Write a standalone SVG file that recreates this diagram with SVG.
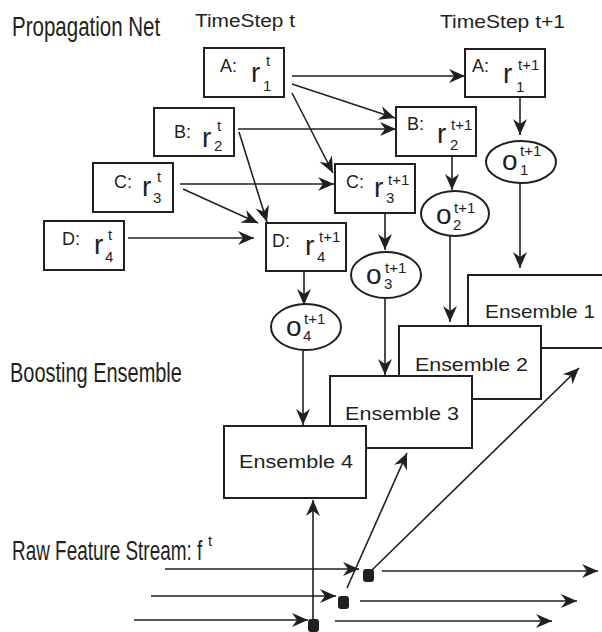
<svg xmlns="http://www.w3.org/2000/svg" width="602" height="632" viewBox="0 0 602 632">
  <style>
    .box { fill: #ffffff; stroke: #231f20; stroke-width: 2; }
    .ell { fill: #ffffff; stroke: #231f20; stroke-width: 2; }
    .arr { fill: none; stroke: #231f20; stroke-width: 1.6; marker-end: url(#head); }
    .lbl { font-family: "Liberation Sans", Arial, sans-serif; font-size: 18px; fill: #231f20; }
    .big { font-family: "Liberation Sans", Arial, sans-serif; font-size: 28px; fill: #231f20; }
    .sm { font-family: "Liberation Sans", Arial, sans-serif; font-size: 15px; fill: #231f20; }
    .ens { font-family: "Liberation Sans", Arial, sans-serif; font-size: 19px; fill: #231f20; }
    .head { font-family: "Liberation Sans", Arial, sans-serif; font-size: 28px; fill: #231f20; }
    .dot { fill: #231f20; }
  </style>
  <defs>
    <marker id="head" viewBox="-17 -8 18 16" refX="0" refY="0" markerWidth="18" markerHeight="16" markerUnits="userSpaceOnUse" orient="auto">
      <path d="M0,0 L-16,-7 L-11,0 L-16,7 Z" fill="#231f20"/>
    </marker>
  </defs>

  <!-- section headings (condensed by horizontal scaling) -->
  <g id="headings">
    <text class="head" transform="translate(12,36) scale(0.733,1)">Propagation Net</text>
    <text class="lbl" x="195" y="27" textLength="100" lengthAdjust="spacingAndGlyphs">TimeStep t</text>
    <text class="lbl" x="440" y="28" textLength="125" lengthAdjust="spacingAndGlyphs">TimeStep t+1</text>
    <text class="head" transform="translate(10,382) scale(0.713,1)">Boosting Ensemble</text>
    <text class="head" transform="translate(12,560) scale(0.676,1)">Raw Feature Stream: f</text>
    <text class="sm" x="208" y="546">t</text>
  </g>

  <!-- ensembles (stacked, later ones in front) -->
  <g id="ensemble1">
    <rect class="box" x="468" y="275" width="160" height="73"/>
    <text class="ens" x="485" y="318" textLength="110" lengthAdjust="spacingAndGlyphs">Ensemble 1</text>
  </g>
  <g id="ensemble2">
    <rect class="box" x="399" y="326" width="142" height="73"/>
    <text class="ens" x="415" y="371" textLength="113" lengthAdjust="spacingAndGlyphs">Ensemble 2</text>
  </g>
  <g id="ensemble3">
    <rect class="box" x="330" y="376" width="142" height="72"/>
    <text class="ens" x="345" y="420" textLength="114" lengthAdjust="spacingAndGlyphs">Ensemble 3</text>
  </g>
  <g id="ensemble4">
    <rect class="box" x="224" y="426" width="142" height="72"/>
    <text class="ens" x="239" y="468" textLength="114" lengthAdjust="spacingAndGlyphs">Ensemble 4</text>
  </g>

  <!-- connectors -->
  <g id="connectors">
    <!-- time step t to t+1 -->
    <line class="arr" x1="292" y1="76" x2="465" y2="76"/>
    <line class="arr" x1="292" y1="84" x2="395" y2="118"/>
    <line class="arr" x1="292" y1="93" x2="333" y2="173"/>
    <line class="arr" x1="238" y1="129" x2="396" y2="129"/>
    <line class="arr" x1="239" y1="132" x2="267" y2="222"/>
    <line class="arr" x1="180" y1="184" x2="334" y2="184"/>
    <line class="arr" x1="183" y1="189" x2="258" y2="223"/>
    <line class="arr" x1="128" y1="238" x2="254" y2="238"/>
    <!-- states to outputs -->
    <line class="arr" x1="520" y1="97" x2="520" y2="135"/>
    <line class="arr" x1="452" y1="156" x2="452" y2="190"/>
    <line class="arr" x1="385" y1="213" x2="385" y2="250"/>
    <line class="arr" x1="304" y1="271" x2="304" y2="305"/>
    <!-- outputs to ensembles -->
    <line class="arr" x1="520" y1="183" x2="520" y2="268"/>
    <line class="arr" x1="450" y1="236" x2="450" y2="322"/>
    <line class="arr" x1="385" y1="298" x2="385" y2="375"/>
    <line class="arr" x1="303" y1="350" x2="303" y2="425"/>
    <!-- raw feature stream -->
    <line class="arr" x1="165" y1="569" x2="359" y2="569"/>
    <line class="arr" x1="382" y1="571" x2="598" y2="571"/>
    <line class="arr" x1="151" y1="596" x2="336" y2="596"/>
    <line class="arr" x1="360" y1="601" x2="577" y2="601"/>
    <line class="arr" x1="134" y1="620" x2="308" y2="620"/>
    <line class="arr" x1="335" y1="621" x2="552" y2="621"/>
    <!-- features into ensembles -->
    <line class="arr" x1="313" y1="624" x2="313" y2="500"/>
    <line class="arr" x1="347" y1="588" x2="407" y2="453"/>
    <line class="arr" x1="372" y1="570" x2="579" y2="368"/>
    <rect class="dot" x="363" y="569" width="11" height="13" rx="3"/>
    <rect class="dot" x="338" y="596" width="11" height="13" rx="3"/>
    <rect class="dot" x="308" y="619" width="11" height="13" rx="3"/>
  </g>

  <!-- time step t states -->
  <g id="rA_t">
    <rect class="box" x="204" y="48" width="80" height="49"/>
    <text class="lbl" x="220" y="72">A:</text>
    <text class="big" x="251" y="82">r</text>
    <text class="sm" x="266" y="66">t</text>
    <text class="sm" x="263" y="91">1</text>
  </g>
  <g id="rB_t">
    <rect class="box" x="154" y="108" width="80" height="48"/>
    <text class="lbl" x="174" y="138">B:</text>
    <text class="big" x="202" y="147">r</text>
    <text class="sm" x="217" y="131">t</text>
    <text class="sm" x="214" y="151">2</text>
  </g>
  <g id="rC_t">
    <rect class="box" x="93" y="163" width="80" height="49"/>
    <text class="lbl" x="114" y="188">C:</text>
    <text class="big" x="142" y="196">r</text>
    <text class="sm" x="157" y="182">t</text>
    <text class="sm" x="153" y="203">3</text>
  </g>
  <g id="rD_t">
    <rect class="box" x="44" y="221" width="80" height="49"/>
    <text class="lbl" x="62" y="245">D:</text>
    <text class="big" x="94" y="254">r</text>
    <text class="sm" x="108" y="240">t</text>
    <text class="sm" x="105" y="262">4</text>
  </g>

  <!-- time step t+1 states -->
  <g id="rA_t1">
    <rect class="box" x="465" y="49" width="80" height="48"/>
    <text class="lbl" x="472" y="72">A:</text>
    <text class="big" x="503" y="83">r</text>
    <text class="sm" x="518" y="70">t+1</text>
    <text class="sm" x="516" y="92">1</text>
  </g>
  <g id="rB_t1">
    <rect class="box" x="396" y="107" width="80" height="49"/>
    <text class="lbl" x="407" y="130">B:</text>
    <text class="big" x="437" y="143">r</text>
    <text class="sm" x="451" y="130">t+1</text>
    <text class="sm" x="450" y="150">2</text>
  </g>
  <g id="rC_t1">
    <rect class="box" x="335" y="164" width="80" height="49"/>
    <text class="lbl" x="346" y="188">C:</text>
    <text class="big" x="374" y="197">r</text>
    <text class="sm" x="388" y="185">t+1</text>
    <text class="sm" x="386" y="203">3</text>
  </g>
  <g id="rD_t1">
    <rect class="box" x="266" y="223" width="80" height="48"/>
    <text class="lbl" x="272" y="247">D:</text>
    <text class="big" x="305" y="255">r</text>
    <text class="sm" x="319" y="242">t+1</text>
    <text class="sm" x="317" y="262">4</text>
  </g>

  <!-- outputs -->
  <g id="o1">
    <ellipse class="ell" cx="521" cy="162" rx="35" ry="21"/>
    <text class="big" x="502" y="170">o</text>
    <text class="sm" x="520" y="156">t+1</text>
    <text class="sm" x="520" y="175">1</text>
  </g>
  <g id="o2">
    <ellipse class="ell" cx="455" cy="213.5" rx="34" ry="22.5"/>
    <text class="big" x="436" y="224">o</text>
    <text class="sm" x="454" y="213">t+1</text>
    <text class="sm" x="453" y="230">2</text>
  </g>
  <g id="o3">
    <ellipse class="ell" cx="386" cy="275" rx="35" ry="23"/>
    <text class="big" x="366" y="284">o</text>
    <text class="sm" x="385" y="273">t+1</text>
    <text class="sm" x="384" y="289">3</text>
  </g>
  <g id="o4">
    <ellipse class="ell" cx="306" cy="327" rx="35" ry="23"/>
    <text class="big" x="286" y="336">o</text>
    <text class="sm" x="304" y="324">t+1</text>
    <text class="sm" x="303" y="341">4</text>
  </g>
</svg>
